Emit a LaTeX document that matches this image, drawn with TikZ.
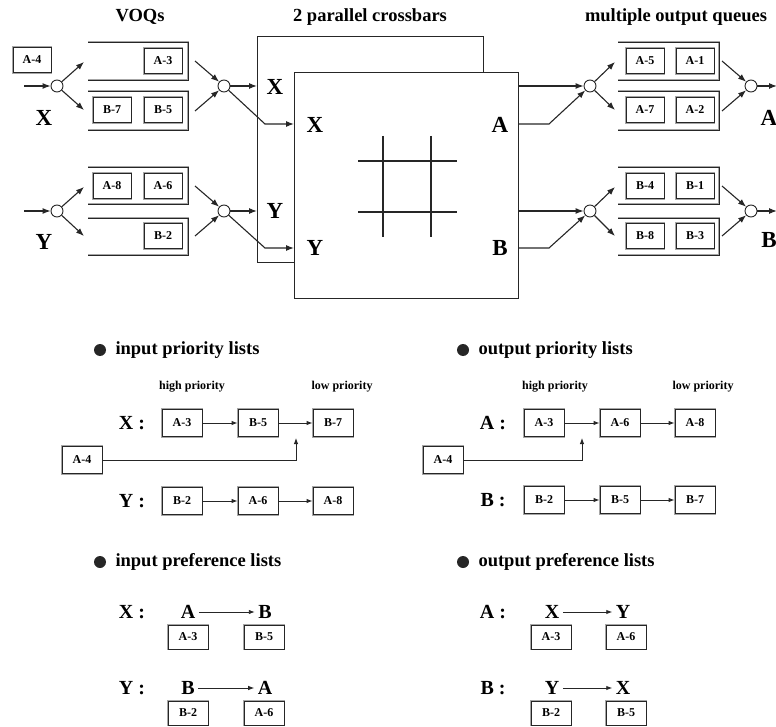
\documentclass[tikz,border=0pt]{standalone}
\usepackage{fontspec}
\setmainfont{Liberation Serif}
\usetikzlibrary{arrows.meta}
\begin{document}
\begin{tikzpicture}[x=1pt,y=-1pt,
  ink/.style={draw=black!85, line width=1.1pt},
  arr/.style={ink, -{Latex[length=8pt,width=6pt]}},
  larr/.style={draw=black!85, line width=0.9pt, -{Latex[length=6pt,width=4.5pt]}},
  dbl/.style={draw=black!85, line width=0.9pt, preaction={draw=black!35, line width=2.8pt}},
  cell/.style={dbl, fill=white, minimum width=38pt, minimum height=25pt, inner sep=0pt,
    font=\bfseries\fontsize{12}{12}\selectfont},
  pcell/.style={cell, minimum width=40pt, minimum height=27pt},
  fcell/.style={cell, minimum width=40pt, minimum height=24pt},
  junc/.style={circle, draw=black!85, line width=0.9pt, fill=white, minimum size=12pt, inner sep=0pt},
  heading/.style={font=\bfseries\fontsize{18.5}{20}\selectfont},
  port/.style={font=\bfseries\fontsize{23}{24}\selectfont},
  listname/.style={font=\bfseries\fontsize{20}{22}\selectfont},
  note/.style={font=\bfseries\fontsize{12}{13}\selectfont},
  bullet/.style={circle, fill=black!85, minimum size=12pt, inner sep=0pt},
  crossbar/.style={ink, rectangle, fill=white, anchor=north west, inner sep=0pt}
]
\useasboundingbox (0,0) rectangle (776,727);

% ---------- headings ----------
\node[heading] (tvoq) at (140,17) {VOQs};
\node[heading] (tcb) at (370,17) {2 parallel crossbars};
\node[heading] (tout) at (676,17) {multiple output queues};

% ---------- input X ----------
\node[cell] (xa4) at (32,60) {A-4};
\coordinate (xsrc) at (24,86);
\node[junc] (xin) at (57,86) {};
\node[port] (xlab) at (44,118) {X};
\draw[dbl] (88,42) -- (188,42) -- (188,80) -- (88,80);
\draw[dbl] (88,91) -- (188,91) -- (188,130) -- (88,130);
\node[cell] (xa3) at (163,61) {A-3};
\node[cell] (xb7) at (112,110) {B-7};
\node[cell] (xb5) at (163,110) {B-5};
\coordinate (xq1in) at (84,62);
\coordinate (xq2in) at (84,110);
\coordinate (xq1out) at (195,61);
\coordinate (xq2out) at (195,111);
\node[junc] (xout) at (224,86) {};
\draw[arr] (xsrc) -- (xin);
\draw[arr] (xin) -- (xq1in);
\draw[arr] (xin) -- (xq2in);
\draw[arr] (xq1out) -- (xout);
\draw[arr] (xq2out) -- (xout);

% ---------- input Y ----------
\coordinate (ysrc) at (24,211);
\node[junc] (yin) at (57,211) {};
\node[port] (ylab) at (44,242) {Y};
\draw[dbl] (88,167) -- (188,167) -- (188,204) -- (88,204);
\draw[dbl] (88,218) -- (188,218) -- (188,255) -- (88,255);
\node[cell] (ya8) at (112,186) {A-8};
\node[cell] (ya6) at (163,186) {A-6};
\node[cell] (yb2) at (163,236) {B-2};
\coordinate (yq1in) at (84,187);
\coordinate (yq2in) at (84,236);
\coordinate (yq1out) at (195,186);
\coordinate (yq2out) at (195,236);
\node[junc] (yout) at (224,211) {};
\draw[arr] (ysrc) -- (yin);
\draw[arr] (yin) -- (yq1in);
\draw[arr] (yin) -- (yq2in);
\draw[arr] (yq1out) -- (yout);
\draw[arr] (yq2out) -- (yout);

% ---------- two crossbars ----------
\node[crossbar, minimum width=226pt, minimum height=226pt] (back) at (257,36) {};
\node[port] (bx) at (275,87) {X};
\node[port] (by) at (275,211) {Y};
\node[crossbar, minimum width=224pt, minimum height=226pt] (front) at (294,72) {};
\node[port] (fx) at (315,125) {X};
\node[port] (fy) at (315,248) {Y};
\node[port] (fa) at (500,125) {A};
\node[port] (fb) at (500,248) {B};
\draw[ink] (383,136) -- (383,237);
\draw[ink] (431,136) -- (431,237);
\draw[ink] (358,161) -- (457,161);
\draw[ink] (358,212) -- (457,212);

\coordinate (xbend) at (265,124);
\coordinate (ybend) at (265,248);
\draw[arr] (xout) -- (xout -| back.west);
\draw[arr] (xout) -- (xbend) -- (xbend -| front.west);
\draw[arr] (yout) -- (yout -| back.west);
\draw[arr] (yout) -- (ybend) -- (ybend -| front.west);

% ---------- output A ----------
\node[junc] (ain) at (590,86) {};
\coordinate (abend) at (549,124);
\draw[arr] (ain -| front.east) -- (ain);
\draw[arr] (abend -| front.east) -- (abend) -- (ain);
\draw[dbl] (618,42) -- (719,42) -- (719,80) -- (618,80);
\draw[dbl] (618,91) -- (719,91) -- (719,130) -- (618,130);
\node[cell] (aa5) at (645,61) {A-5};
\node[cell] (aa1) at (695,61) {A-1};
\node[cell] (aa7) at (645,110) {A-7};
\node[cell] (aa2) at (695,110) {A-2};
\coordinate (aq1in) at (615,62);
\coordinate (aq2in) at (615,110);
\coordinate (aq1out) at (722,61);
\coordinate (aq2out) at (722,111);
\node[junc] (aout) at (751,86) {};
\coordinate (aexit) at (777,86);
\node[port] (alab) at (769,118) {A};
\draw[arr] (ain) -- (aq1in);
\draw[arr] (ain) -- (aq2in);
\draw[arr] (aq1out) -- (aout);
\draw[arr] (aq2out) -- (aout);
\draw[arr] (aout) -- (aexit);

% ---------- output B ----------
\node[junc] (bin) at (590,211) {};
\coordinate (bbend) at (549,248);
\draw[arr] (bin -| front.east) -- (bin);
\draw[arr] (bbend -| front.east) -- (bbend) -- (bin);
\draw[dbl] (618,167) -- (719,167) -- (719,204) -- (618,204);
\draw[dbl] (618,218) -- (719,218) -- (719,255) -- (618,255);
\node[cell] (bb4) at (645,186) {B-4};
\node[cell] (bb1) at (695,186) {B-1};
\node[cell] (bb8) at (645,236) {B-8};
\node[cell] (bb3) at (695,236) {B-3};
\coordinate (bq1in) at (615,187);
\coordinate (bq2in) at (615,236);
\coordinate (bq1out) at (722,186);
\coordinate (bq2out) at (722,236);
\node[junc] (bout) at (751,211) {};
\coordinate (bexit) at (777,211);
\node[port] (blab) at (769,240) {B};
\draw[arr] (bin) -- (bq1in);
\draw[arr] (bin) -- (bq2in);
\draw[arr] (bq1out) -- (bout);
\draw[arr] (bq2out) -- (bout);
\draw[arr] (bout) -- (bexit);

% ---------- input priority lists ----------
\node[bullet] (ipb) at (100,350) {};
\node[heading, anchor=west] (ipt) at (112,350) {input priority lists};
\node[note] (iphi) at (192,387) {high priority};
\node[note] (iplo) at (342,387) {low priority};
\node[listname] (ipx) at (132,423) {X :};
\node[pcell] (ipxa3) at (182,423) {A-3};
\node[pcell] (ipxb5) at (258,423) {B-5};
\node[pcell] (ipxb7) at (333,423) {B-7};
\node[pcell] (ipa4) at (82,460) {A-4};
\coordinate (ipjoin) at (296,438);
\draw[larr] (ipxa3) -- (ipxb5);
\draw[larr] (ipxb5) -- (ipxb7);
\draw[larr] (ipa4.east) -- (ipa4.east -| ipjoin) -- (ipjoin);
\node[listname] (ipy) at (132,501) {Y :};
\node[pcell] (ipyb2) at (182,501) {B-2};
\node[pcell] (ipya6) at (258,501) {A-6};
\node[pcell] (ipya8) at (333,501) {A-8};
\draw[larr] (ipyb2) -- (ipya6);
\draw[larr] (ipya6) -- (ipya8);

% ---------- output priority lists ----------
\node[bullet] (opb) at (463,350) {};
\node[heading, anchor=west] (opt) at (475,350) {output priority lists};
\node[note] (ophi) at (555,387) {high priority};
\node[note] (oplo) at (703,387) {low priority};
\node[listname] (opa) at (493,423) {A :};
\node[pcell] (opaa3) at (544,423) {A-3};
\node[pcell] (opaa6) at (620,423) {A-6};
\node[pcell] (opaa8) at (695,423) {A-8};
\node[pcell] (opa4) at (443,460) {A-4};
\coordinate (opjoin) at (582,438);
\draw[larr] (opaa3) -- (opaa6);
\draw[larr] (opaa6) -- (opaa8);
\draw[larr] (opa4.east) -- (opa4.east -| opjoin) -- (opjoin);
\node[listname] (opbl) at (493,500) {B :};
\node[pcell] (opbb2) at (544,500) {B-2};
\node[pcell] (opbb5) at (620,500) {B-5};
\node[pcell] (opbb7) at (695,500) {B-7};
\draw[larr] (opbb2) -- (opbb5);
\draw[larr] (opbb5) -- (opbb7);

% ---------- input preference lists ----------
\node[bullet] (ifb) at (100,562) {};
\node[heading, anchor=west] (ift) at (112,562) {input preference lists};
\node[listname] (ifx) at (132,612) {X :};
\node[listname] (ifxa) at (188,612) {A};
\node[listname] (ifxb) at (265,612) {B};
\draw[larr] (ifxa) -- (ifxb);
\node[fcell] (ifxa3) at (188,637) {A-3};
\node[fcell] (ifxb5) at (264,637) {B-5};
\node[listname] (ify) at (132,688) {Y :};
\node[listname] (ifyb) at (188,688) {B};
\node[listname] (ifya) at (265,688) {A};
\draw[larr] (ifyb) -- (ifya);
\node[fcell] (ifyb2) at (188,713) {B-2};
\node[fcell] (ifya6) at (264,713) {A-6};

% ---------- output preference lists ----------
\node[bullet] (ofb) at (463,562) {};
\node[heading, anchor=west] (oft) at (475,562) {output preference lists};
\node[listname] (ofa) at (493,612) {A :};
\node[listname] (ofax) at (552,612) {X};
\node[listname] (ofay) at (623,612) {Y};
\draw[larr] (ofax) -- (ofay);
\node[fcell] (ofaa3) at (551,637) {A-3};
\node[fcell] (ofaa6) at (626,637) {A-6};
\node[listname] (ofbl) at (493,688) {B :};
\node[listname] (ofby) at (552,688) {Y};
\node[listname] (ofbx) at (623,688) {X};
\draw[larr] (ofby) -- (ofbx);
\node[fcell] (ofbb2) at (551,713) {B-2};
\node[fcell] (ofbb5) at (626,713) {B-5};
\end{tikzpicture}
\end{document}
